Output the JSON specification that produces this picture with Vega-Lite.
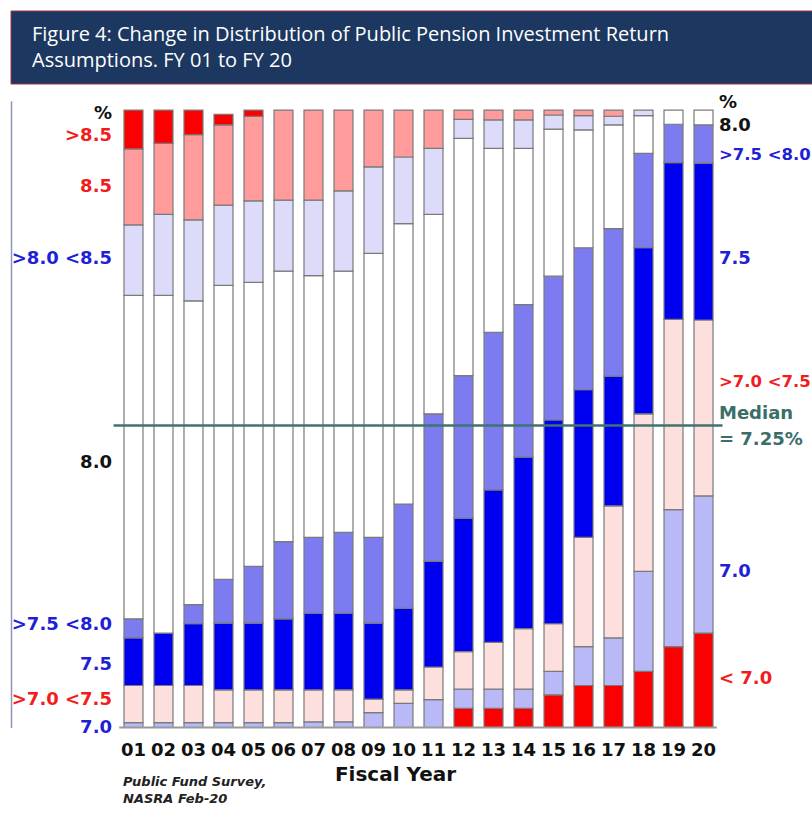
{
  "$schema": "https://vega.github.io/schema/vega-lite/v6.json",
  "background": "white",
  "padding": {"left": 10, "top": 10, "right": 0, "bottom": 0},
  "spacing": 7.8,
  "config": {"font": "DejaVu Sans", "view": {"stroke": null}},
  "vconcat": [
    {
      "width": 802,
      "height": 73,
      "view": {"fill": "#1c3760", "stroke": null},
      "data": {"values": [{"k": 1}]},
      "mark": {"type": "rect", "color": "#1c3760", "stroke": "#a8323e", "strokeWidth": 1},
      "encoding": {},
      "title": {
        "text": ["Figure 4: Change in Distribution of Public Pension Investment Return", "Assumptions. FY 01 to FY 20"],
        "anchor": "start",
        "frame": "group",
        "orient": "top",
        "baseline": "alphabetic",
        "offset": -76.7,
        "dx": 21,
        "font": "Open Sans",
        "fontSize": 20,
        "fontWeight": "normal",
        "color": "white",
        "lineHeight": 26.4,
        "zindex": 1
      }
    },
    {
      "width": 707.5,
      "height": 626.7,
      "view": {"stroke": null},
      "title": {
        "text": ["Public Fund Survey,", "NASRA Feb-20"],
        "orient": "bottom",
        "anchor": "start",
        "frame": "group",
        "offset": -9,
        "dx": 112,
        "font": "DejaVu Sans",
        "fontSize": 13,
        "fontWeight": "bold",
        "fontStyle": "italic",
        "color": "#222222",
        "lineHeight": 17.3
      },
      "layer": [
        {
          "data": {
            "values": [
              {"fy": "01", "a_lt70": 0, "b_70": 0.8, "c_70_75": 6.0, "d_75": 7.7, "e_75_80": 3.1, "f_80": 52.4, "g_80_85": 11.4, "h_85": 12.3, "i_gt85": 6.3},
              {"fy": "02", "a_lt70": 0, "b_70": 0.8, "c_70_75": 6.0, "d_75": 8.5, "e_75_80": 0, "f_80": 54.7, "g_80_85": 13.1, "h_85": 11.5, "i_gt85": 5.4},
              {"fy": "03", "a_lt70": 0, "b_70": 0.8, "c_70_75": 6.0, "d_75": 10.0, "e_75_80": 3.1, "f_80": 49.2, "g_80_85": 13.1, "h_85": 13.8, "i_gt85": 4.0},
              {"fy": "04", "a_lt70": 0, "b_70": 0.8, "c_70_75": 5.3, "d_75": 10.8, "e_75_80": 7.1, "f_80": 47.6, "g_80_85": 13.0, "h_85": 13.0, "i_gt85": 1.7},
              {"fy": "05", "a_lt70": 0, "b_70": 0.8, "c_70_75": 5.3, "d_75": 10.8, "e_75_80": 9.2, "f_80": 46.0, "g_80_85": 13.2, "h_85": 13.7, "i_gt85": 1.0},
              {"fy": "06", "a_lt70": 0, "b_70": 0.8, "c_70_75": 5.3, "d_75": 11.5, "e_75_80": 12.5, "f_80": 43.8, "g_80_85": 11.5, "h_85": 14.6, "i_gt85": 0},
              {"fy": "07", "a_lt70": 0, "b_70": 0.9, "c_70_75": 5.2, "d_75": 12.4, "e_75_80": 12.3, "f_80": 42.4, "g_80_85": 12.2, "h_85": 14.6, "i_gt85": 0},
              {"fy": "08", "a_lt70": 0, "b_70": 0.9, "c_70_75": 5.2, "d_75": 12.4, "e_75_80": 13.1, "f_80": 42.3, "g_80_85": 13.0, "h_85": 13.1, "i_gt85": 0},
              {"fy": "09", "a_lt70": 0, "b_70": 2.4, "c_70_75": 2.2, "d_75": 12.3, "e_75_80": 13.9, "f_80": 46.0, "g_80_85": 14.0, "h_85": 9.2, "i_gt85": 0},
              {"fy": "10", "a_lt70": 0, "b_70": 3.9, "c_70_75": 2.2, "d_75": 13.2, "e_75_80": 16.9, "f_80": 45.4, "g_80_85": 10.8, "h_85": 7.6, "i_gt85": 0},
              {"fy": "11", "a_lt70": 0, "b_70": 4.5, "c_70_75": 5.3, "d_75": 17.1, "e_75_80": 23.9, "f_80": 32.3, "g_80_85": 10.7, "h_85": 6.2, "i_gt85": 0},
              {"fy": "12", "a_lt70": 3.1, "b_70": 3.1, "c_70_75": 6.1, "d_75": 21.6, "e_75_80": 23.1, "f_80": 38.4, "g_80_85": 3.1, "h_85": 1.5, "i_gt85": 0},
              {"fy": "13", "a_lt70": 3.1, "b_70": 3.1, "c_70_75": 7.6, "d_75": 24.7, "e_75_80": 25.5, "f_80": 29.8, "g_80_85": 4.6, "h_85": 1.6, "i_gt85": 0},
              {"fy": "14", "a_lt70": 3.1, "b_70": 3.1, "c_70_75": 9.8, "d_75": 27.8, "e_75_80": 24.7, "f_80": 25.3, "g_80_85": 4.6, "h_85": 1.6, "i_gt85": 0},
              {"fy": "15", "a_lt70": 5.3, "b_70": 3.8, "c_70_75": 7.7, "d_75": 33.0, "e_75_80": 23.3, "f_80": 23.8, "g_80_85": 2.3, "h_85": 0.8, "i_gt85": 0},
              {"fy": "16", "a_lt70": 6.8, "b_70": 6.3, "c_70_75": 17.7, "d_75": 23.9, "e_75_80": 23.0, "f_80": 19.1, "g_80_85": 2.3, "h_85": 0.9, "i_gt85": 0},
              {"fy": "17", "a_lt70": 6.8, "b_70": 7.7, "c_70_75": 21.4, "d_75": 21.0, "e_75_80": 23.9, "f_80": 16.8, "g_80_85": 1.4, "h_85": 1.0, "i_gt85": 0},
              {"fy": "18", "a_lt70": 9.1, "b_70": 16.2, "c_70_75": 25.5, "d_75": 26.9, "e_75_80": 15.3, "f_80": 6.1, "g_80_85": 0.9, "h_85": 0, "i_gt85": 0},
              {"fy": "19", "a_lt70": 13.1, "b_70": 22.2, "c_70_75": 30.8, "d_75": 25.4, "e_75_80": 6.2, "f_80": 2.3, "g_80_85": 0, "h_85": 0, "i_gt85": 0},
              {"fy": "20", "a_lt70": 15.3, "b_70": 22.2, "c_70_75": 28.5, "d_75": 25.4, "e_75_80": 6.2, "f_80": 2.4, "g_80_85": 0, "h_85": 0, "i_gt85": 0}
            ]
          },
          "transform": [
            {"fold": ["a_lt70", "b_70", "c_70_75", "d_75", "e_75_80", "f_80", "g_80_85", "h_85", "i_gt85"], "as": ["cat", "pct"]},
            {"filter": "datum.pct > 0"}
          ],
          "mark": {"type": "bar", "stroke": "#7a7a7a", "strokeWidth": 1.2},
          "encoding": {
            "x": {
              "field": "fy",
              "type": "ordinal",
              "scale": {"type": "band", "range": [107.5, 707.5], "paddingInner": 0.367, "paddingOuter": 0.183},
              "axis": {
                "title": "Fiscal Year",
                "titleFont": "DejaVu Sans",
                "titleFontSize": 20,
                "titleFontWeight": "bold",
                "titleColor": "#111111",
                "titleX": 384,
                "titleY": 37,
                "titleAlign": "center",
                "titleBaseline": "top",
                "labelAngle": 0,
                "labelFont": "DejaVu Sans",
                "labelFontSize": 18,
                "labelFontWeight": "bold",
                "labelColor": "#111111",
                "labelPadding": 14,
                "ticks": false,
                "grid": false,
                "domain": false
              }
            },
            "y": {
              "field": "pct",
              "type": "quantitative",
              "stack": "zero",
              "scale": {"domain": [0, 101.5], "nice": false},
              "axis": {
                "orient": "left",
                "title": null,
                "grid": false,
                "domain": true,
                "domainColor": "#8a96bd",
                "domainWidth": 1.5,
                "ticks": false,
                "values": [99.5, 95.8, 87.7, 76.0, 42.95, 16.7, 10.2, 4.5, 0],
                "labelExpr": "datum.value == 99.5 ? '%' : datum.value == 95.8 ? '>8.5' : datum.value == 87.7 ? '8.5' : datum.value == 76 ? '>8.0 <8.5' : datum.value == 42.95 ? '8.0' : datum.value == 16.7 ? '>7.5 <8.0' : datum.value == 10.2 ? '7.5' : datum.value == 4.5 ? '>7.0 <7.5' : '7.0'",
                "labelFont": "DejaVu Sans",
                "labelFontSize": 18,
                "labelFontWeight": "bold",
                "labelAlign": "right",
                "labelPadding": -100.5,
                "labelOverlap": false,
                "labelColor": {
                  "condition": [
                    {"test": "datum.value == 99.5 || datum.value == 42.95", "value": "#111111"},
                    {"test": "datum.value == 95.8 || datum.value == 87.7 || datum.value == 4.5", "value": "#f21c1c"}
                  ],
                  "value": "#1f1fd6"
                }
              }
            },
            "color": {
              "field": "cat",
              "type": "nominal",
              "scale": {
                "domain": ["a_lt70", "b_70", "c_70_75", "d_75", "e_75_80", "f_80", "g_80_85", "h_85", "i_gt85"],
                "range": ["#fa0000", "#b9b9f7", "#fde0de", "#0000f0", "#7c7cf0", "#ffffff", "#dcdcfa", "#ff9b9b", "#fa0000"]
              },
              "legend": null
            },
            "order": {"field": "cat", "type": "ordinal", "sort": "ascending"}
          }
        },
        {
          "data": {"values": [{"k": 1}]},
          "mark": {"type": "rule", "color": "#9a9a9a", "strokeWidth": 2},
          "encoding": {
            "x": {"datum": "01", "type": "ordinal", "bandPosition": -0.25, "scale": {"type": "band", "range": [107.5, 707.5], "paddingInner": 0.367, "paddingOuter": 0.183}},
            "x2": {"datum": "20", "bandPosition": 1.2},
            "y": {"datum": 0, "type": "quantitative", "scale": {"domain": [0, 101.5], "nice": false}, "axis": null}
          }
        },
        {
          "data": {"values": [{"k": 1}]},
          "mark": {"type": "rule", "color": "#3f736f", "strokeWidth": 2.5},
          "encoding": {
            "x": {"datum": "01", "type": "ordinal", "bandPosition": -0.55, "scale": {"type": "band", "range": [107.5, 707.5], "paddingInner": 0.367, "paddingOuter": 0.183}},
            "x2": {"datum": "20", "bandPosition": 1.5},
            "y": {
              "datum": 48.9,
              "type": "quantitative",
              "scale": {"domain": [0, 101.5], "nice": false},
              "axis": {
                "orient": "right",
                "title": null,
                "grid": false,
                "domain": false,
                "ticks": false,
                "values": [101.2, 97.5, 92.8, 75.9, 56.1, 50.8, 46.6, 25.2, 7.9],
                "labelExpr": "datum.value == 101.2 ? '%' : datum.value == 97.5 ? '8.0' : datum.value == 92.8 ? '>7.5 <8.0' : datum.value == 75.9 ? '7.5' : datum.value == 56.1 ? '>7.0 <7.5' : datum.value == 50.8 ? 'Median' : datum.value == 46.6 ? '= 7.25%' : datum.value == 25.2 ? '7.0' : '< 7.0'",
                "labelFont": "DejaVu Sans",
                "labelFontWeight": "bold",
                "labelOverlap": false,
                "labelPadding": 0,
                "labelFontSize": {
                  "condition": {"test": "datum.value == 92.8 || datum.value == 56.1", "value": 16.5},
                  "value": 18
                },
                "labelColor": {
                  "condition": [
                    {"test": "datum.value == 101.2 || datum.value == 97.5", "value": "#111111"},
                    {"test": "datum.value == 56.1 || datum.value == 7.9", "value": "#f21c1c"},
                    {"test": "datum.value == 50.8 || datum.value == 46.6", "value": "#3b6e69"}
                  ],
                  "value": "#1f1fd6"
                },
                "encode": {
                  "labels": {
                    "update": {
                      "dx": {"signal": "datum.value == 50.8 ? 12 : datum.value == 46.6 ? 7 : datum.value == 25.2 ? 3 : 0"}
                    }
                  }
                }
              }
            }
          }
        }
      ],
      "resolve": {"axis": {"y": "independent"}}
    }
  ]
}
